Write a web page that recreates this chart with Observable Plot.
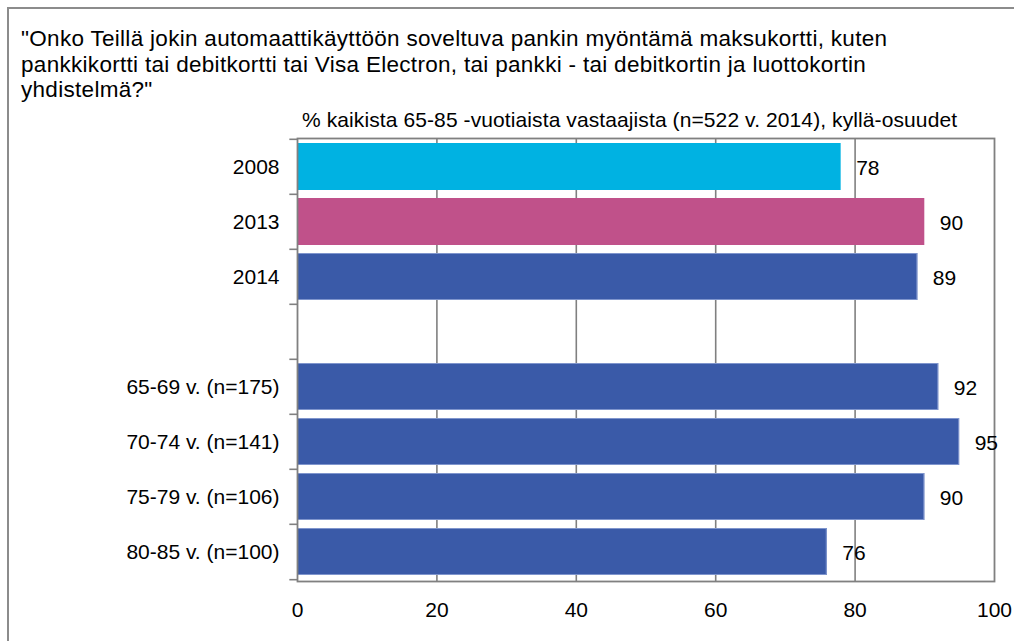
<!DOCTYPE html>
<html>
<head>
<meta charset="utf-8">
<script src="https://cdn.jsdelivr.net/npm/d3@7"></script>
<script src="https://cdn.jsdelivr.net/npm/@observablehq/plot@0.6"></script>
<style>
  html, body { margin: 0; padding: 0; background: #fff; overflow: hidden; }
  #root { position: relative; width: 1014px; height: 641px; overflow: hidden; font-family: "Liberation Sans", Arial, sans-serif; color: #000; }
  #frame { position: absolute; left: 7px; top: 7px; width: 1040px; height: 700px; border: 2px solid #8c8c8c; box-sizing: border-box; }
  #title { position: absolute; left: 21px; top: 26px; font-size: 22.5px; line-height: 25.5px; white-space: nowrap; letter-spacing: 0.3px; }
  #subtitle { position: absolute; left: 302px; top: 108px; font-size: 21px; line-height: 24px; white-space: nowrap; letter-spacing: 0.1px; }
  #chart { position: absolute; left: 0; top: 133px; }
</style>
</head>
<body>
<div id="root">
  <div id="frame"></div>
  <div id="title"></div>
  <div id="subtitle"></div>
  <div id="chart"></div>
</div>
<script>
const titleLines = [
  "\"Onko Teillä jokin automaattikäyttöön soveltuva pankin myöntämä maksukortti, kuten",
  "pankkikortti tai debitkortti tai Visa Electron, tai pankki - tai debitkortin ja luottokortin",
  "yhdistelmä?\""
];
const subtitle = "% kaikista 65-85 -vuotiaista vastaajista (n=522 v. 2014), kyllä-osuudet";

// Category axis (includes the empty spacer row)
const categories = ["2008", "2013", "2014", "", "65-69 v. (n=175)", "70-74 v. (n=141)", "75-79 v. (n=106)", "80-85 v. (n=100)"];
// Bars
const barLabels = ["2008", "2013", "2014", "65-69 v. (n=175)", "70-74 v. (n=141)", "75-79 v. (n=106)", "80-85 v. (n=100)"];
const barValues = [78, 90, 89, 92, 95, 90, 76];
const barColors = ["#00b2e2", "#c0518a", "#3a5aa8", "#3a5aa8", "#3a5aa8", "#3a5aa8", "#3a5aa8"];
const xTicks = [0, 20, 40, 60, 80, 100];
const gridTicks = [20, 40, 60, 80];

document.getElementById("title").innerHTML = titleLines.map(s => s.replace(/&/g, "&amp;").replace(/</g, "&lt;")).join("<br>");
document.getElementById("subtitle").textContent = subtitle;

const data = barLabels.map((label, i) => ({label, value: barValues[i], color: barColors[i]}));

const plotH = 443, mTop = 5, mBottom = 60;
const step = plotH / categories.length;

const chart = Plot.plot({
  width: 1014,
  height: mTop + plotH + mBottom,
  marginTop: mTop,
  marginBottom: mBottom,
  marginLeft: 297,
  marginRight: 20,
  style: {fontFamily: "'Liberation Sans', Arial, sans-serif", fontSize: "21px", color: "#000", background: "transparent"},
  x: {domain: [0, 100], ticks: xTicks, tickSize: 0, tickPadding: 21, label: null},
  y: {domain: categories, paddingInner: 0.14, paddingOuter: 0.07, tickSize: 0, tickPadding: 18, label: null},
  marks: [
    Plot.ruleX(gridTicks, {stroke: "#808080", strokeWidth: 1.6}),
    Plot.barX(data, {y: "label", x: "value", fill: "color"}),
    Plot.barX(data.filter(d => d.color === "#3a5aa8"), {y: "label", x: "value", fill: "none", stroke: "#7f95cd", strokeWidth: 1, inset: 0.5}),
    Plot.frame({stroke: "#808080", strokeWidth: 1.8}),
    Plot.ruleY(categories, {y: d => d, x1: -1.1, x2: 0, dy: -step / 2, stroke: "#808080", strokeWidth: 1.6}),
    Plot.ruleY(categories.slice(-1), {y: d => d, x1: -1.1, x2: 0, dy: step / 2, stroke: "#808080", strokeWidth: 1.6}),
    Plot.text(data, {y: "label", x: "value", text: d => String(d.value), dx: 15, dy: 1, textAnchor: "start", fill: "#000", fontSize: 21})
  ]
});
document.getElementById("chart").appendChild(chart);
</script>
</body>
</html>
